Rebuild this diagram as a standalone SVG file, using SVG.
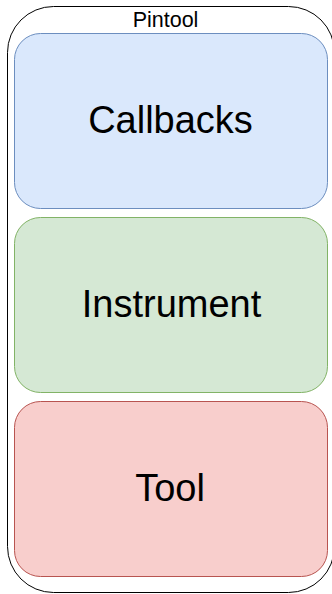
<svg xmlns="http://www.w3.org/2000/svg" width="332" height="594" viewBox="0 0 332 594">
  <style>
    .lbl { font-family: "Liberation Sans", Arial, sans-serif; fill: #000; text-anchor: middle; }
    .big { font-size: 38px; }
  </style>
  <rect width="332" height="594" fill="#ffffff"/>
  <g id="pintool">
    <rect x="7.5" y="6.5" width="327" height="586" rx="46" ry="46" fill="#ffffff" stroke="#000000" stroke-width="1"/>
    <text class="lbl" x="165.5" y="27" font-size="21.5">Pintool</text>
  </g>
  <g id="callbacks">
    <rect x="14.5" y="33.5" width="313" height="175" rx="26" ry="26" fill="#dae8fc" stroke="#6c8ebf" stroke-width="1"/>
    <text class="lbl big" x="170.5" y="133">Callbacks</text>
  </g>
  <g id="instrument">
    <rect x="14.5" y="217.5" width="313" height="175" rx="26" ry="26" fill="#d5e8d4" stroke="#82b366" stroke-width="1"/>
    <text class="lbl big" x="171.5" y="317">Instrument</text>
  </g>
  <g id="tool">
    <rect x="14.5" y="401.5" width="313" height="175" rx="26" ry="26" fill="#f8cecc" stroke="#b85450" stroke-width="1"/>
    <text class="lbl big" x="170" y="501">Tool</text>
  </g>
  <g id="connectors"/>
</svg>
